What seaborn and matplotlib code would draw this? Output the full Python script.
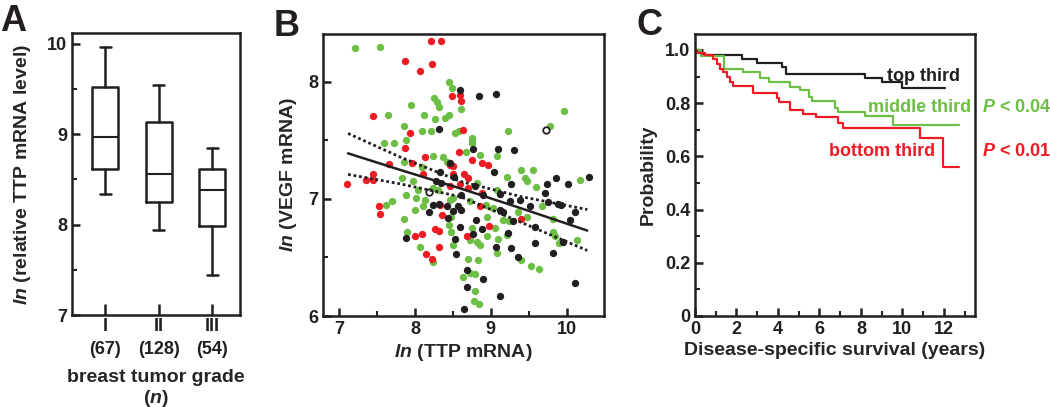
import matplotlib
matplotlib.use('Agg')
import matplotlib.pyplot as plt
import seaborn as sns

# Panel A: box summaries per tumor grade
grades = ['I', 'II', 'III']
grade_n = [67, 128, 54]
whisker_low = [8.34, 7.94, 7.44]
box_q1 = [8.61, 8.25, 7.99]
box_median = [8.97, 8.56, 8.38]
box_q3 = [9.52, 9.14, 8.62]
whisker_high = [9.97, 9.54, 8.85]

# Panel B: ln(TTP mRNA) vs ln(VEGF mRNA), by group colour
red_x = [8.21, 8.34, 7.87, 8.23, 8.07, 8.49, 8.59, 8.61, 7.45, 8.63, 7.66, 7.45, 7.93, 7.87, 8.58, 8.13,
         8.75, 8.88, 7.96, 8.96, 8.46, 8.50, 8.11, 8.50, 8.64, 8.70, 8.59, 8.46, 8.70, 8.88, 8.33, 8.86,
         8.36, 9.40, 8.98, 8.26, 8.32, 8.10, 8.00, 8.68, 8.32, 8.22, 7.11, 7.35, 7.45, 7.53, 7.54, 8.14]
red_y = [8.35, 8.35, 8.18, 8.15, 8.09, 7.88, 7.89, 7.84, 7.71, 7.59, 7.30, 7.21, 7.56, 7.44, 7.40, 7.36,
         7.33, 7.31, 7.31, 7.29, 7.29, 7.28, 7.21, 7.21, 7.21, 7.18, 7.13, 7.11, 7.09, 7.05, 6.95, 6.94,
         6.86, 6.83, 6.77, 6.74, 6.73, 6.70, 6.68, 6.68, 6.59, 6.49, 7.13, 7.16, 7.16, 6.94, 6.87, 6.53]
green_x = [7.21, 7.54, 8.45, 8.49, 8.25, 8.29, 8.32, 7.95, 8.61, 7.65,
           8.12, 8.26, 8.40, 8.45, 7.85, 7.59, 7.73, 8.09, 8.21, 8.53,
           8.58, 7.88, 8.75, 8.67, 8.86, 9.08, 8.24, 8.37, 8.42, 7.85,
           8.09, 9.21, 9.45, 9.47, 7.83, 7.98, 8.82, 8.04, 8.24, 8.31,
           9.08, 9.12, 7.88, 8.02, 8.13, 8.46, 8.50, 8.72, 9.36, 8.94,
           9.03, 8.00, 8.11, 8.48, 8.95, 9.24, 9.16, 9.47, 7.85, 8.45,
           9.05, 8.75, 7.89, 8.47, 8.73, 8.82, 8.95, 9.10, 9.21, 8.07,
           8.50, 8.86, 9.08, 8.70, 9.96, 9.78, 9.22, 8.75, 8.75, 9.40,
           9.56, 10.18, 7.62, 7.70, 8.24, 8.63, 9.59, 9.67, 9.82, 9.82,
           9.84, 9.90, 10.14, 9.53, 9.64, 9.40, 8.83, 8.72, 8.79, 8.79,
           8.78, 8.85]
green_y = [8.29, 8.30, 8.00, 7.95, 7.86, 7.83, 7.79, 7.80, 7.77, 7.72,
           7.72, 7.68, 7.69, 7.72, 7.62, 7.48, 7.48, 7.58, 7.58, 7.56,
           7.58, 7.50, 7.50, 7.40, 7.38, 7.37, 7.37, 7.36, 7.32, 7.32,
           7.27, 7.19, 7.18, 7.15, 7.18, 7.15, 7.14, 7.08, 7.09, 7.08,
           7.08, 7.04, 7.03, 7.01, 6.99, 6.99, 7.01, 6.98, 6.89, 6.95,
           6.92, 6.91, 6.94, 6.85, 6.85, 6.81, 6.82, 6.85, 6.83, 6.78,
           6.75, 6.75, 6.72, 6.72, 6.65, 6.63, 6.68, 6.66, 6.69, 6.59,
           6.61, 6.61, 6.54, 6.49, 7.75, 7.62, 7.58, 7.52, 7.48, 7.25,
           7.25, 7.16, 6.95, 6.98, 6.46, 6.33, 7.10, 6.94, 6.83, 6.72,
           6.68, 6.62, 6.65, 6.43, 6.40, 6.48, 6.48, 6.37, 6.36, 6.21,
           6.13, 6.10]
black_x = [8.59, 8.32, 8.85, 9.07, 9.86, 10.29, 8.76, 9.10, 9.31, 8.46,
           8.33, 9.04, 8.51, 8.28, 8.35, 9.27, 8.79, 8.90, 8.61, 9.25,
           9.39, 8.24, 8.32, 8.42, 8.57, 9.12, 9.16, 8.19, 8.50, 8.61,
           8.43, 8.81, 9.29, 8.59, 8.88, 8.53, 7.88, 9.07, 9.27, 9.36,
           8.54, 8.68, 8.68, 8.64, 9.74, 10.01, 9.71, 9.75, 9.89, 9.93,
           10.11, 10.04, 9.58, 9.95, 9.58, 9.82, 10.11, 8.90, 9.12, 9.22,
           8.76, 9.12, 9.51]
black_y = [7.93, 7.60, 7.88, 7.90, 7.18, 7.19, 7.43, 7.43, 7.42, 7.31,
           7.23, 7.23, 7.19, 7.15, 7.14, 7.13, 7.11, 7.03, 7.03, 6.98,
           6.99, 6.95, 6.96, 6.94, 6.94, 6.91, 6.89, 6.89, 6.90, 6.91,
           6.84, 6.82, 6.81, 6.76, 6.74, 6.66, 6.67, 6.59, 6.58, 6.50,
           6.53, 6.39, 6.25, 6.06, 7.13, 7.13, 7.05, 6.97, 6.96, 6.95,
           6.89, 6.82, 6.76, 6.63, 6.62, 6.54, 6.28, 6.32, 6.17, 6.71,
           6.70, 7.04, 6.94]
open_x = [9.72, 8.18]
open_y = [7.59, 7.06]

fit_x = [7.12, 7.8, 8.6, 9.4, 10.27]
fit_y = [7.39, 7.25, 7.09, 6.92, 6.73]
band_hi = [7.56, 7.36, 7.15, 7.02, 6.91]
band_lo = [7.21, 7.13, 7.02, 6.80, 6.56]

# Panel C: Kaplan-Meier steps (years, survival probability)
top_t = [0, 0.32, 2.25, 2.97, 4.2, 4.39, 8.2, 9.0, 9.96, 12.05]
top_s = [1.0, 0.98, 0.965, 0.952, 0.937, 0.908, 0.893, 0.878, 0.856, 0.856]
mid_t = [0, 0.3, 1.4, 2.3, 3.13, 3.55, 4.58, 5.06, 5.5, 5.62, 6.75, 6.9, 8.19, 9.56, 12.72]
mid_s = [1.0, 0.977, 0.928, 0.917, 0.895, 0.878, 0.862, 0.85, 0.823, 0.808, 0.782, 0.768, 0.75, 0.718, 0.718]
bot_t = [0, 0.1, 0.48, 0.88, 1.04, 1.2, 1.36, 1.53, 1.69, 1.82, 2.81, 3.97, 4.06, 4.58, 5.22, 5.83,
         6.9, 7.15, 10.84, 11.97, 12.72]
bot_s = [1.0, 0.99, 0.98, 0.966, 0.947, 0.93, 0.916, 0.9, 0.881, 0.865, 0.837, 0.818, 0.806, 0.774,
         0.759, 0.747, 0.727, 0.706, 0.668, 0.561, 0.561]

BLACK = '#231F20'
RED = '#ED1C24'
GREEN = '#6DBE45'

sns.set_style('ticks')
plt.rcParams['font.family'] = ['Liberation Sans', 'DejaVu Sans']
plt.rcParams['font.weight'] = 'bold'
plt.rcParams['axes.labelweight'] = 'bold'
plt.rcParams['mathtext.fontset'] = 'custom'
plt.rcParams['mathtext.rm'] = 'Liberation Sans:bold'
plt.rcParams['mathtext.bf'] = 'Liberation Sans:bold'
plt.rcParams['mathtext.it'] = 'Liberation Sans:italic:bold'
plt.rcParams['xtick.direction'] = 'in'
plt.rcParams['ytick.direction'] = 'in'
plt.rcParams['axes.linewidth'] = 1.8
plt.rcParams['axes.edgecolor'] = BLACK
plt.rcParams['text.color'] = BLACK

fig = plt.figure(figsize=(10.5, 4.07), dpi=100)
W, H = 1050, 407
axA = fig.add_axes([72 / W, 1 - 315 / H, 168 / W, 282 / H])
axB = fig.add_axes([323 / W, 1 - 316 / H, 281 / W, 282 / H])
axC = fig.add_axes([695 / W, 1 - 316 / H, 280 / W, 282 / H])

for ax in (axA, axB, axC):
    ax.tick_params(which='major', length=6, width=1.8, labelsize=13, colors=BLACK)
    ax.tick_params(which='minor', length=3.5, width=1.5)

# ---- A: box plot
stats = []
for i in range(3):
    stats.append(dict(whislo=whisker_low[i], q1=box_q1[i], med=box_median[i],
                      q3=box_q3[i], whishi=whisker_high[i], fliers=[], label=grades[i]))
lp = dict(color=BLACK, linewidth=1.8)
axA.bxp(stats, positions=[1, 2, 3], widths=0.48, capwidths=0.2, showfliers=False,
        boxprops=lp, whiskerprops=lp, capprops=lp, medianprops=dict(color=BLACK, linewidth=1.5))
axA.set_xlim(0.38, 3.52)
axA.set_ylim(7, 10.12)
axA.set_yticks([7, 8, 9, 10])
axA.set_yticks([7.5, 8.5, 9.5], minor=True)
axA.set_xticks([1, 2, 3])
axA.set_xticklabels([f'{g}\n({n})' for g, n in zip(grades, grade_n)], linespacing=1.45)
axA.tick_params(axis='x', length=8, pad=2)
axA.set_xlabel('breast tumor grade\n($\\mathit{n}$)', fontsize=14, linespacing=1.15, labelpad=8)
axA.set_ylabel('$\\mathit{ln}$ (relative TTP mRNA level)', fontsize=14)
axA.yaxis.set_label_coords(-0.23, 0.5)

# ---- B: scatter with regression line
sns.scatterplot(x=green_x, y=green_y, color=GREEN, s=28, linewidth=0, ax=axB)
sns.scatterplot(x=red_x, y=red_y, color=RED, s=28, linewidth=0, ax=axB)
sns.scatterplot(x=black_x, y=black_y, color=BLACK, s=28, linewidth=0, ax=axB)
sns.scatterplot(x=open_x, y=open_y, color='white', edgecolor=BLACK, s=22, linewidth=1.3, ax=axB)
sns.lineplot(x=fit_x, y=fit_y, color=BLACK, lw=1.8, estimator=None, sort=False, ax=axB)
sns.lineplot(x=fit_x, y=band_hi, color=BLACK, lw=2, ls=(0, (1, 1)), estimator=None, sort=False, ax=axB)
sns.lineplot(x=fit_x, y=band_lo, color=BLACK, lw=2, ls=(0, (1, 1)), estimator=None, sort=False, ax=axB)
axB.set_xlim(6.79, 10.49)
axB.set_ylim(6, 8.41)
axB.set_xticks([7, 8, 9, 10])
axB.set_xticks([7.5, 8.5, 9.5], minor=True)
axB.set_yticks([6, 7, 8])
axB.set_yticks([6.5, 7.5], minor=True)
axB.set_xlabel('$\\mathit{ln}$ (TTP mRNA)', fontsize=14, labelpad=3)
axB.set_ylabel('$\\mathit{ln}$ (VEGF mRNA)', fontsize=14)
axB.yaxis.set_label_coords(-0.085, 0.5)

# ---- C: survival curves
for t, s, c in ((top_t, top_s, BLACK), (mid_t, mid_s, GREEN), (bot_t, bot_s, RED)):
    sns.lineplot(x=t, y=s, color=c, lw=1.6, drawstyle='steps-post', estimator=None, sort=False, ax=axC)
axC.set_xlim(0, 13.5)
axC.set_ylim(0, 1.06)
axC.set_xticks(range(0, 13, 2))
axC.set_xticks(range(1, 14, 2), minor=True)
axC.set_yticks([0, 0.2, 0.4, 0.6, 0.8, 1.0])
axC.set_yticklabels(['0', '0.2', '0.4', '0.6', '0.8', '1.0'])
axC.set_yticks([0.1, 0.3, 0.5, 0.7, 0.9], minor=True)
axC.set_xlabel('Disease-specific survival (years)', fontsize=14, labelpad=3)
axC.set_ylabel('Probability', fontsize=14)
axC.yaxis.set_label_coords(-0.135, 0.5)

axC.text(9.25, 0.902, 'top third', color=BLACK, fontsize=13, va='center')
axC.text(8.34, 0.782, 'middle third', color=GREEN, fontsize=13, va='center')
axC.text(13.83, 0.782, '$\\mathit{P}$ < 0.04', color=GREEN, fontsize=13, va='center', clip_on=False)
axC.text(6.46, 0.617, 'bottom third', color=RED, fontsize=13, va='center')
axC.text(13.83, 0.617, '$\\mathit{P}$ < 0.01', color=RED, fontsize=13, va='center', clip_on=False)

for ax in (axA, axB, axC):
    for sp in ax.spines.values():
        sp.set_visible(True)
    if ax.get_legend() is not None:
        ax.get_legend().remove()

fig.text(0 / W, 1 - 4 / H, 'A', fontsize=26, va='top', ha='left')
fig.text(274 / W, 1 - 9 / H, 'B', fontsize=26, va='top', ha='left')
fig.text(636 / W, 1 - 8 / H, 'C', fontsize=26, va='top', ha='left')

fig.savefig('out.png', dpi=100)
